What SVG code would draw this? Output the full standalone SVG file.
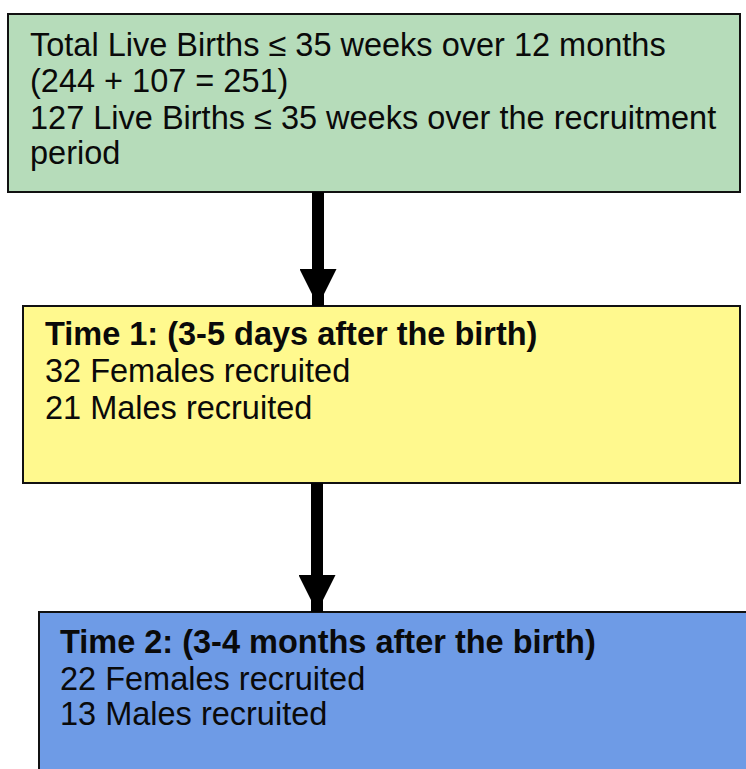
<svg xmlns="http://www.w3.org/2000/svg" width="746" height="769" viewBox="0 0 746 769">
<style>
.box{stroke:#111;stroke-width:2}
.t{font-family:"Liberation Sans",Arial,sans-serif;font-size:32.5px;fill:#0a0a0a}
.b{font-weight:bold}
</style>
<defs>
<marker id="ah" viewBox="0 0 37 37" refX="37" refY="18.5" markerWidth="37" markerHeight="37" markerUnits="userSpaceOnUse" orient="auto">
<path d="M0,0 L37,18.5 L0,37 Z" fill="#000"/>
</marker>
</defs>
<rect width="746" height="769" fill="#fff"/>
<g id="node-green">
<rect class="box" x="8" y="14" width="732" height="178" fill="#b6dcba"/>
<text class="t" x="30" y="56">Total Live Births ≤ 35 weeks over 12 months</text>
<text class="t" x="30" y="92">(244 + 107 = 251)</text>
<text class="t" x="30" y="129">127 Live Births ≤ 35 weeks over the recruitment</text>
<text class="t" x="30" y="164">period</text>
</g>
<g id="node-yellow">
<rect class="box" x="23" y="306" width="717" height="177" fill="#fff98e"/>
<text class="t b" x="45" y="345">Time 1: (3-5 days after the birth)</text>
<text class="t" x="45" y="382">32 Females recruited</text>
<text class="t" x="45" y="419">21 Males recruited</text>
</g>
<g id="node-blue">
<rect class="box" x="39" y="612" width="720" height="170" fill="#6e9be6"/>
<text class="t b" x="60" y="653">Time 2: (3-4 months after the birth)</text>
<text class="t" x="60" y="690">22 Females recruited</text>
<text class="t" x="60" y="725">13 Males recruited</text>
</g>
<g id="connectors">
<line x1="318" y1="192" x2="318" y2="306" stroke="#000" stroke-width="12" marker-end="url(#ah)"/>
<line x1="317" y1="483" x2="317" y2="612" stroke="#000" stroke-width="12" marker-end="url(#ah)"/>
</g>
</svg>
